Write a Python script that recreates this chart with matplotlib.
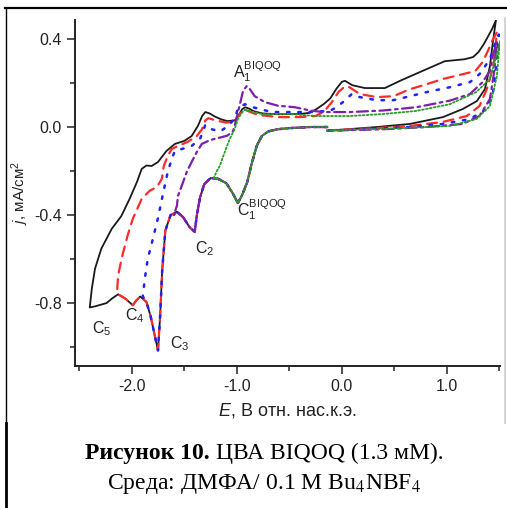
import matplotlib
matplotlib.use("Agg")
import matplotlib.pyplot as plt
from matplotlib.lines import Line2D
from matplotlib.ticker import MultipleLocator, FormatStrFormatter

plt.rcParams['font.family'] = ['Liberation Sans', 'DejaVu Sans']
plt.rcParams['mathtext.fontset'] = 'custom'
plt.rcParams['mathtext.rm'] = 'Liberation Sans'
plt.rcParams['mathtext.it'] = 'Liberation Sans:italic'

# общая катодная ветвь (от -0.14 В в сторону отрицательных потенциалов)
E_cath = [-0.14, -0.30, -0.50, -0.61, -0.70, -0.76, -0.81, -0.86, -0.90, -0.95,
          -0.99, -1.04, -1.10, -1.18, -1.25, -1.31, -1.35, -1.38, -1.40, -1.45,
          -1.51, -1.57, -1.63, -1.68, -1.71, -1.73, -1.75, -1.78, -1.82, -1.86,
          -1.92, -1.96, -1.99, -2.06, -2.13, -2.19, -2.24, -2.35, -2.40]
j_cath = [0.0, 0.0, -0.005, -0.01, -0.02, -0.04, -0.085, -0.17, -0.25, -0.31,
          -0.345, -0.30, -0.255, -0.235, -0.232, -0.26, -0.32, -0.40, -0.476, -0.455,
          -0.41, -0.385, -0.40, -0.47, -0.65, -0.86, -1.015, -0.95, -0.86, -0.795,
          -0.77, -0.79, -0.81, -0.78, -0.76, -0.78, -0.80, -0.815, -0.82]

# сколько точек катодной ветви проходит каждая кривая до точки переключения
n_black, n_red, n_blue, n_purple, n_green = 39, 35, 30, 22, 14

# анодные ветви (от точки переключения до +1.5 В)
E_up_black = [-2.40, -2.38, -2.35, -2.29, -2.19, -2.10, -2.02, -1.95, -1.905, -1.86,
              -1.81, -1.75, -1.67, -1.59, -1.50, -1.43, -1.37, -1.33, -1.30, -1.26,
              -1.21, -1.15, -1.09, -1.02, -0.98, -0.95, -0.92, -0.88, -0.84, -0.76,
              -0.60, -0.40, -0.30, -0.24, -0.17, -0.11, -0.05, 0.0, 0.03, 0.10,
              0.22, 0.41, 0.55, 0.74, 0.98, 1.17, 1.25, 1.30, 1.35, 1.39, 1.43, 1.467]
j_up_black = [-0.82, -0.734, -0.644, -0.553, -0.462, -0.405, -0.326, -0.249, -0.19, -0.175,
              -0.177, -0.159, -0.109, -0.077, -0.063, -0.041, 0.005, 0.05, 0.068, 0.062,
              0.048, 0.035, 0.027, 0.03, 0.055, 0.08, 0.09, 0.083, 0.072, 0.062,
              0.058, 0.059, 0.065, 0.082, 0.105, 0.13, 0.175, 0.205, 0.21, 0.19,
              0.177, 0.177, 0.209, 0.249, 0.299, 0.308, 0.318, 0.34, 0.375, 0.41, 0.445, 0.485]

E_up_red = [-2.14, -2.13, -2.09, -2.04, -1.99, -1.905, -1.83, -1.76, -1.714, -1.695,
            -1.657, -1.62, -1.56, -1.47, -1.38, -1.33, -1.30, -1.27, -1.20, -1.10,
            -1.02, -0.97, -0.93, -0.88, -0.80, -0.60, -0.40, -0.25, -0.17, -0.10,
            -0.03, 0.03, 0.076, 0.17, 0.33, 0.49, 0.65, 0.81, 0.96, 1.15,
            1.27, 1.34, 1.39, 1.43, 1.476]
j_up_red = [-0.75, -0.675, -0.585, -0.494, -0.417, -0.326, -0.29, -0.272, -0.236, -0.177,
            -0.131, -0.10, -0.086, -0.068, -0.041, -0.009, 0.03, 0.04, 0.03, 0.02,
            0.025, 0.06, 0.08, 0.07, 0.055, 0.045, 0.045, 0.05, 0.07, 0.11,
            0.16, 0.185, 0.18, 0.15, 0.136, 0.14, 0.172, 0.195, 0.218, 0.24,
            0.254, 0.295, 0.345, 0.39, 0.43]

E_up_blue = [-1.895, -1.876, -1.848, -1.80, -1.752, -1.714, -1.686, -1.657, -1.619, -1.59,
             -1.524, -1.43, -1.35, -1.32, -1.30, -1.24, -1.16, -1.08, -1.02, -0.99,
             -0.924, -0.848, -0.667, -0.35, -0.114, -0.05, 0.01, 0.095, 0.17, 0.33,
             0.49, 0.65, 0.81, 1.03, 1.22, 1.31, 1.41, 1.45, 1.495]
j_up_blue = [-0.77, -0.69, -0.60, -0.51, -0.417, -0.33, -0.267, -0.204, -0.145, -0.109,
             -0.10, -0.086, -0.054, -0.018, 0.01, -0.01, -0.02, 0.005, 0.04, 0.082,
             0.104, 0.09, 0.068, 0.068, 0.073, 0.09, 0.113, 0.15, 0.136, 0.122,
             0.122, 0.14, 0.159, 0.181, 0.204, 0.24, 0.308, 0.367, 0.42]

E_up_purple = [-1.60, -1.57, -1.56, -1.524, -1.476, -1.43, -1.38, -1.333, -1.257, -1.21,
               -1.095, -1.04, -1.02, -0.97, -0.94, -0.905, -0.876, -0.829, -0.733, -0.61,
               -0.448, -0.30, -0.18, 0.076, 0.39, 0.71, 1.03, 1.22, 1.34, 1.41,
               1.44, 1.476]
j_up_purple = [-0.40, -0.358, -0.313, -0.267, -0.204, -0.159, -0.113, -0.077, -0.06, -0.054,
               -0.04, -0.023, 0.005, 0.104, 0.165, 0.186, 0.172, 0.14, 0.113, 0.097,
               0.09, 0.075, 0.068, 0.068, 0.075, 0.09, 0.12, 0.15, 0.204, 0.255,
               0.33, 0.385]

E_up_green = [-1.22, -1.19, -1.162, -1.114, -1.067, -1.02, -0.99, -0.952, -0.924, -0.89,
              -0.857, -0.76, -0.51, -0.238, 0.076, 0.39, 0.71, 1.03, 1.28, 1.41,
              1.49, 1.505]
j_up_green = [-0.232, -0.20, -0.177, -0.113, -0.054, -0.009, 0.036, 0.065, 0.078, 0.075,
              0.07, 0.059, 0.059, 0.05, 0.05, 0.059, 0.073, 0.104, 0.159, 0.218,
              0.354, 0.39]

# обратные ветви (от +1.5 В назад к -0.14 В)
E_ret_black = [1.438, 1.41, 1.362, 1.286, 1.152, 0.962, 0.648, 0.333, 0.0, -0.14]
j_ret_black = [0.385, 0.277, 0.172, 0.118, 0.082, 0.045, 0.014, 0.0, -0.012, -0.016]
E_ret_red = [1.45, 1.41, 1.38, 1.31, 1.19, 0.96, 0.65, 0.33, 0.0, -0.14]
j_ret_red = [0.30, 0.22, 0.172, 0.095, 0.05, 0.023, 0.005, -0.005, -0.012, -0.016]
E_ret_blue = [1.47, 1.44, 1.38, 1.22, 0.96, 0.65, 0.33, 0.0, -0.14]
j_ret_blue = [0.28, 0.159, 0.082, 0.036, 0.014, 0.0, -0.008, -0.014, -0.017]
E_ret_purple = [1.45, 1.41, 1.31, 1.15, 0.81, 0.40, 0.0, -0.14]
j_ret_purple = [0.25, 0.127, 0.05, 0.014, 0.0, -0.01, -0.015, -0.018]
E_ret_green = [1.476, 1.41, 1.28, 1.03, 0.39, 0.076, -0.14]
j_ret_green = [0.231, 0.095, 0.036, 0.005, -0.009, -0.012, -0.018]

x_ticks = [-2.0, -1.0, 0.0, 1.0]
y_ticks = [-0.8, -0.4, 0.0, 0.4]

fig = plt.figure(figsize=(5.07, 5.08), dpi=100)
ax = fig.add_axes([0.148, 0.2795, 0.838, 0.681])

curves = [
    (n_black, E_up_black, j_up_black, E_ret_black, j_ret_black,
     dict(color='#1a1a1a', lw=1.3, ls='-')),
    (n_red, E_up_red, j_up_red, E_ret_red, j_ret_red,
     dict(color='#ff2a2a', lw=1.6, dashes=(4.5, 3))),
    (n_blue, E_up_blue, j_up_blue, E_ret_blue, j_ret_blue,
     dict(color='#2020ff', lw=1.8, dashes=(1, 3.5))),
    (n_purple, E_up_purple, j_up_purple, E_ret_purple, j_ret_purple,
     dict(color='#7d1fa8', lw=1.6, dashes=(5, 2, 1.2, 2))),
    (n_green, E_up_green, j_up_green, E_ret_green, j_ret_green,
     dict(color='#22a022', lw=1.3, dashes=(1, 1.2))),
]
for n, eu, ju, er, jr, st in curves:
    E = E_cath[:n] + eu + er
    j = j_cath[:n] + ju + jr
    ax.plot(E, j, solid_joinstyle='round', dash_capstyle='round', **st)

ax.set_xlim(-2.54, 1.505)
ax.set_ylim(-1.086, 0.486)
ax.set_xticks(x_ticks)
ax.set_yticks(y_ticks)
ax.xaxis.set_minor_locator(MultipleLocator(0.5))
ax.yaxis.set_minor_locator(MultipleLocator(0.2))
ax.xaxis.set_major_formatter(FormatStrFormatter('%.1f'))
ax.yaxis.set_major_formatter(FormatStrFormatter('%.1f'))
for s in ['top', 'right']:
    ax.spines[s].set_visible(False)
for s in ['left', 'bottom']:
    ax.spines[s].set_linewidth(1.4)
    ax.spines[s].set_color('#222222')
ax.tick_params(which='major', direction='out', length=5.5, width=1.1,
               labelsize=11.5, colors='#222222', pad=4)
ax.tick_params(which='minor', direction='out', length=3.5, width=1.1, colors='#222222')

ax.set_xlabel('$E$, В отн. нас.к.э.', fontsize=13, color='#222222', labelpad=5)
ax.set_ylabel('$j$, мА/см$^2$', fontsize=11, color='#222222', labelpad=2)

lab = dict(fontsize=11.5, color='#222222', ha='left', va='baseline')
ax.text(-1.038, 0.227, r'A$_1^{\rm BIQOQ}$', **lab)
ax.text(-1.0, -0.40, r'C$_1^{\rm BIQOQ}$', **lab)
ax.text(-1.40, -0.573, r'C$_2$', **lab)
ax.text(-1.638, -1.0045, r'C$_3$', **lab)
ax.text(-2.067, -0.877, r'C$_4$', **lab)
ax.text(-2.38, -0.936, r'C$_5$', **lab)

# рамка
W, H = 507.0, 508.0
fig.add_artist(Line2D([5 / W, 1], [1 - 8 / H, 1 - 8 / H], color='black', lw=1.6,
                      transform=fig.transFigure))
fig.add_artist(Line2D([6 / W, 6 / W], [1 - 8 / H, 1 - 423 / H], color='black', lw=1.0,
                      transform=fig.transFigure))
fig.add_artist(Line2D([6 / W, 6 / W], [1 - 423 / H, 0], color='black', lw=2.0,
                      transform=fig.transFigure))
fig.add_artist(Line2D([504.5 / W, 504.5 / W], [1 - 18 / H, 1 - 423 / H], color='#cccccc',
                      lw=1.2, transform=fig.transFigure))

# подпись
cap = dict(family=['Liberation Serif', 'DejaVu Serif'], fontsize=17, color='black',
           va='baseline')
t1 = fig.text(85 / W, 1 - 459 / H, 'Рисунок 10.', weight='bold', **cap)
fig.canvas.draw()
bb = t1.get_window_extent()
fig.text((bb.x1 + 6) / W, 1 - 459 / H, 'ЦВА BIQOQ (1.3 мМ).', **cap)
fig.text(264 / W, 1 - 489 / H, 'Среда: ДМФА/ 0.1 М Bu$_4$NBF$_4$', ha='center',
         math_fontfamily='stix', **cap)

fig.savefig('out.png', dpi=100)
